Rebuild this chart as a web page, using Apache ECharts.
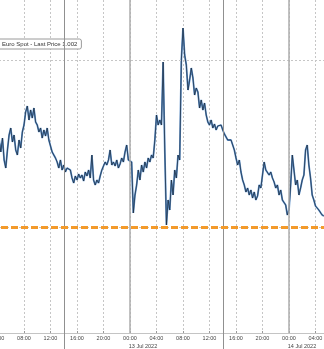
<!DOCTYPE html>
<html>
<head>
<meta charset="utf-8">
<script src="https://cdn.jsdelivr.net/npm/echarts@6/dist/echarts.min.js"></script>
<style>html,body{margin:0;padding:0;background:#fff;}#c{width:324px;height:349px;}</style>
</head>
<body>
<div id="c"></div>
<script>
// hours since 12 Jul 2022 00:00
const hours = [4.25,4.5,4.75,5,5.25,5.5,5.75,6,6.25,6.5,6.75,7,7.25,7.5,7.75,8,8.25,8.5,8.75,9,9.25,9.5,9.75,10,10.25,10.5,10.75,11,11.25,11.5,11.75,12,12.25,12.5,12.75,13,13.25,13.5,13.75,14,14.25,14.5,14.75,15,15.25,15.5,15.75,16,16.25,16.5,16.75,17,17.25,17.5,17.75,18,18.25,18.5,18.75,19,19.25,19.5,19.75,20,20.25,20.5,20.75,21,21.25,21.5,21.75,22,22.25,22.5,22.75,23,23.25,23.5,23.75,24,24.25,24.5,24.75,25,25.25,25.5,25.75,26,26.25,26.5,26.75,27,27.25,27.5,27.75,28,28.25,28.5,28.75,29,29.25,29.5,29.75,30,30.25,30.5,30.75,31,31.25,31.5,31.75,32,32.25,32.5,32.75,33,33.25,33.5,33.75,34,34.25,34.5,34.75,35,35.25,35.5,35.75,36,36.25,36.5,36.75,37,37.25,37.5,37.75,38,38.25,38.5,38.75,39,39.25,39.5,39.75,40,40.25,40.5,40.75,41,41.25,41.5,41.75,42,42.25,42.5,42.75,43,43.25,43.5,43.75,44,44.25,44.5,44.75,45,45.25,45.5,45.75,46,46.25,46.5,46.75,47,47.25,47.5,47.75,48,48.25,48.5,48.75,49,49.25,49.5,49.75,50,50.25,50.5,50.75,51,51.25,51.5,51.75,52,52.25,52.5,52.75,53,53.25];
const prices = [
1.00522,1.00450,1.00534,1.00402,
1.00354,1.00462,1.00552,1.00594,
1.00510,1.00552,1.00462,1.00432,
1.00522,1.00474,1.00570,1.00612,
1.00690,1.00726,1.00642,1.00702,
1.00654,1.00714,1.00630,1.00612,
1.00570,1.00594,1.00534,1.00582,
1.00546,1.00594,1.00522,1.00486,
1.00450,1.00462,1.00414,1.00390,
1.00354,1.00402,1.00342,1.00372,
1.00330,1.00354,1.00366,1.00342,
1.00294,1.00264,1.00306,1.00282,
1.00318,1.00294,1.00312,1.00276,
1.00330,1.00306,1.00342,1.00294,
1.00432,1.00282,1.00252,1.00282,
1.00264,1.00306,1.00342,1.00354,
1.00390,1.00372,1.00402,1.00462,
1.00372,1.00390,1.00366,1.00402,
1.00354,1.00378,1.00414,1.00390,
1.00450,1.00492,1.00402,1.00414,
1.00390,1.00084,1.00192,1.00252,
1.00342,1.00282,1.00372,1.00330,
1.00390,1.00354,1.00414,1.00390,
1.00432,1.00414,1.00522,1.00672,
1.00612,1.00642,1.00612,1.00990,
1.00462,1.00012,1.00162,1.00102,
1.00282,1.00192,1.00342,1.00294,
1.00432,1.00402,1.01002,1.01194,
1.01032,1.00972,1.00822,1.00882,
1.00954,1.00894,1.00792,1.00834,
1.00810,1.00714,1.00762,1.00702,
1.00744,1.00672,1.00630,1.00612,
1.00642,1.00594,1.00618,1.00582,
1.00606,1.00594,1.00612,1.00582,
1.00558,1.00570,1.00522,1.00534,
1.00522,1.00492,1.00462,1.00414,
1.00372,1.00402,1.00330,1.00282,
1.00252,1.00210,1.00234,1.00192,
1.00222,1.00174,1.00210,1.00162,
1.00186,1.00252,1.00234,1.00312,
1.00390,1.00342,1.00354,1.00312,
1.00330,1.00294,1.00270,1.00234,
1.00252,1.00192,1.00222,1.00162,
1.00174,1.00132,1.00072,1.00102,
1.00252,1.00432,1.00342,1.00252,
1.00282,1.00192,1.00234,1.00282,
1.00312,1.00462,1.00492,1.00372,
1.00294,1.00192,1.00162,1.00126,
1.00138,1.00102,1.00090,1.00072,
1.00066];
const dayLabels = ['12 Jul 2022', '13 Jul 2022', '14 Jul 2022'];
const gridPrices = [0.995, 1.000, 1.005, 1.010];
const parity = 1.000;
const sessionLines = [14, 38];
const dayLines = [0, 24, 48];
const seriesName = 'Euro Spot';
const lastPriceLabel = '1.002';

const data = hours.map((h, i) => [h, prices[i]]);
const chart = echarts.init(document.getElementById('c'), null, {renderer: 'canvas'});
const FONT = 'Liberation Sans';
chart.setOption({
  animation: false,
  backgroundColor: '#ffffff',
  grid: {left: -29, right: -18, top: 0, bottom: 16, containLabel: false, outerBoundsMode: 'none'},
  legend: {
    data: [{name: seriesName, icon: 'none'}],
    formatter: () => seriesName + ' - Last Price ' + lastPriceLabel,
    left: -6, top: 39, itemWidth: 0, itemHeight: 6, itemGap: 0,
    padding: [2, 4, 2, 3],
    borderColor: '#9a9a9a', borderWidth: 1, borderRadius: 2,
    backgroundColor: '#ffffff',
    textStyle: {fontFamily: FONT, fontSize: 6, color: '#333'}
  },
  xAxis: [{
    type: 'value', min: 0, max: 56, interval: 4,
    axisLine: {show: true, lineStyle: {color: '#c4c4c4', width: 1}},
    axisTick: {show: true, inside: true, length: 2, lineStyle: {color: '#999'}},
    splitLine: {show: true, lineStyle: {color: '#c6c6c6', width: 1, type: [2, 2]}},
    axisLabel: {
      margin: 2, showMinLabel: true, showMaxLabel: true, hideOverlap: false,
      fontFamily: FONT, fontSize: 5.5, color: '#444', lineHeight: 7.5,
      formatter: function (v) {
        const hh = v % 24;
        return (hh < 10 ? '0' : '') + hh + ':00';
      }
    }
  }, {
    type: 'value', min: 0, max: 56, interval: 24, position: 'bottom',
    axisLine: {show: false},
    axisTick: {show: true, customValues: sessionLines, inside: false, length: 16, lineStyle: {color: '#909090', width: 1}},
    splitLine: {show: false},
    axisLabel: {
      customValues: dayLines,
      margin: 9.5, showMinLabel: true, showMaxLabel: true, hideOverlap: false,
      fontFamily: FONT, fontSize: 5.5, color: '#444', lineHeight: 7.5,
      padding: [0, 0, 0, 26],
      formatter: function (v) { return dayLabels[Math.round(v / 24)] || ''; }
    }
  }],
  yAxis: {
    type: 'value', min: 0.99364, max: 1.01362,
    axisLine: {show: false}, axisTick: {show: false}, axisLabel: {show: false},
    splitLine: {show: false}
  },
  series: [
    {
      name: 'grid', type: 'line', data: [], z: 1, silent: true,
      markLine: {
        silent: true, symbol: 'none', label: {show: false},
        data: gridPrices.map(p => ({yAxis: p, lineStyle: {color: '#c6c6c6', width: 1, type: [2, 2]}}))
          .concat(dayLines.map(h => ({xAxis: h, lineStyle: {color: '#acacac', width: 1.5, type: 'solid'}})))
          .concat(sessionLines.map(h => ({xAxis: h, lineStyle: {color: '#909090', width: 1, type: 'solid'}})))
      }
    },
    {
      name: 'parity', type: 'line', data: [], z: 2, silent: true,
      markLine: {
        silent: true, symbol: 'none', label: {show: false},
        data: [{yAxis: parity, lineStyle: {color: '#f39a2a', width: 3, type: [7, 3]}}]
      }
    },
    {
      name: seriesName, type: 'line', data: data, z: 3,
      showSymbol: false, symbol: 'none',
      lineStyle: {color: '#5b90cc', width: 1.8},
      itemStyle: {color: '#5b90cc'}
    },
    {
      name: 'outline', type: 'line', data: data, z: 4,
      showSymbol: false, symbol: 'none',
      lineStyle: {color: '#1b2634', width: 0.7}
    }
  ]
});
</script>
</body>
</html>
